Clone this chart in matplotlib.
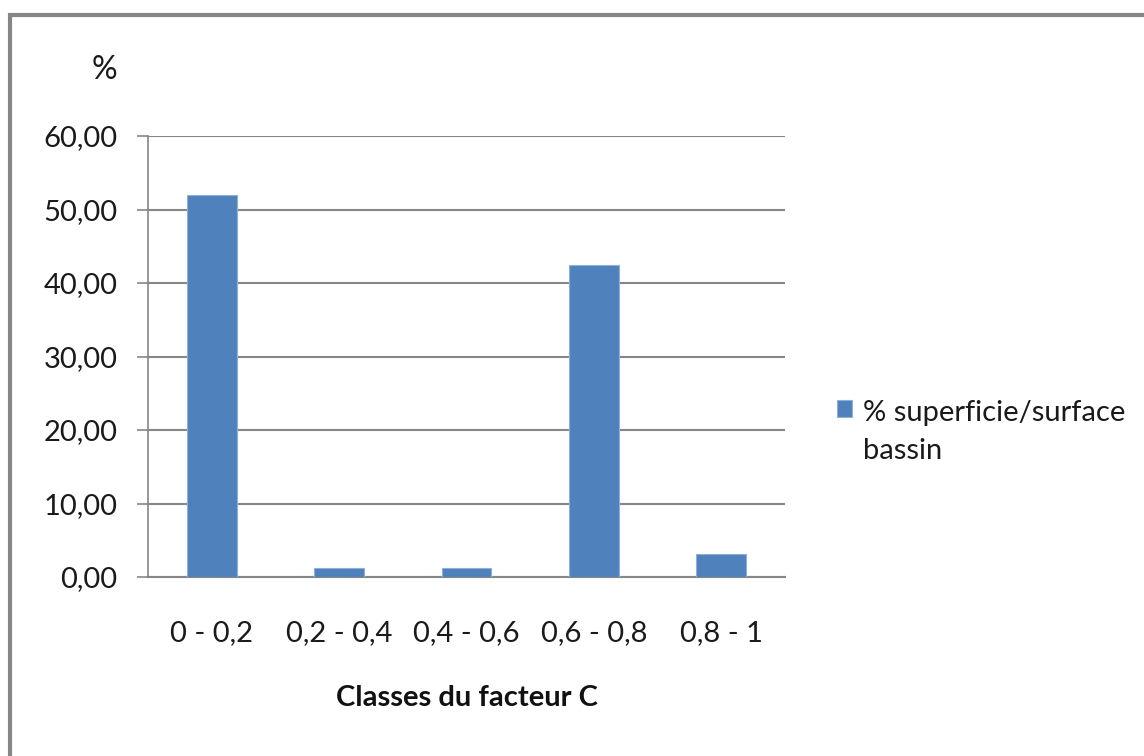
import matplotlib
matplotlib.use("Agg")
import matplotlib.pyplot as plt
from matplotlib.patches import Rectangle

categories = ["0 - 0,2", "0,2 - 0,4", "0,4 - 0,6", "0,6 - 0,8", "0,8 - 1"]
values = [52.0, 1.2, 1.2, 42.5, 3.1]
series_label = "% superficie/surface\nbassin"
yticks = [0, 10, 20, 30, 40, 50, 60]

plt.rcParams['font.family'] = ['Lato', 'DejaVu Sans']

fig = plt.figure(figsize=(11.44, 7.56), dpi=100)
ax = fig.add_axes([148/1144, 1-577/756, (785-148)/1144, (577-136)/756])

bars = ax.bar(range(len(categories)), values, width=0.39, color="#4F81BD",
              edgecolor="#8FB0DA", linewidth=0.8, zorder=3, label=series_label)

ax.set_xlim(-0.5, len(categories) - 0.5)
ax.set_ylim(0, 60)
ax.set_yticks(yticks)
ax.set_yticklabels([f"{v:.2f}".replace(".", ",") for v in yticks], fontsize=21, color="#1a1a1a")
ax.set_xticks(range(len(categories)))
ax.set_xticklabels(categories, fontsize=21, color="#1a1a1a")
ax.tick_params(axis="x", length=0, pad=31)
ax.tick_params(axis="y", length=8, width=1.2, color="#868686", direction="out", pad=14)
ax.yaxis.grid(True, color="#868686", linewidth=1.5, zorder=0)
ax.set_axisbelow(True)
for s in ["top", "right"]:
    ax.spines[s].set_visible(False)
ax.spines["left"].set_color("#868686")
ax.spines["left"].set_linewidth(1.2)
ax.spines["bottom"].set_color("#868686")
ax.spines["bottom"].set_linewidth(1.5)

ax.set_xlabel("Classes du facteur C", fontsize=21, fontweight="bold", labelpad=28, color="#111111")
fig.text(104/1144, 1-70/756, "%", fontsize=23, ha="center", va="center", color="#1a1a1a")

leg = ax.legend(loc="center left", bbox_to_anchor=(837/1144, 1-432/756),
                bbox_transform=fig.transFigure, frameon=False, fontsize=21,
                handlelength=0.52, handleheight=0.52, handletextpad=0.38,
                borderpad=0, borderaxespad=0)
for t in leg.get_texts():
    t.set_linespacing(1.6)
    t.set_color("#1a1a1a")
h = leg.legend_handles[0]
h.set_y(h.get_y() + 17.3)

# outer border (cut off on right and bottom)
fig.patches.append(Rectangle((10/1144, -0.05), 1.2, 1 - 15/756 + 0.05, transform=fig.transFigure,
                             fill=False, edgecolor="#868686", linewidth=3, zorder=10))

fig.savefig("out.png", dpi=100, facecolor="white")
